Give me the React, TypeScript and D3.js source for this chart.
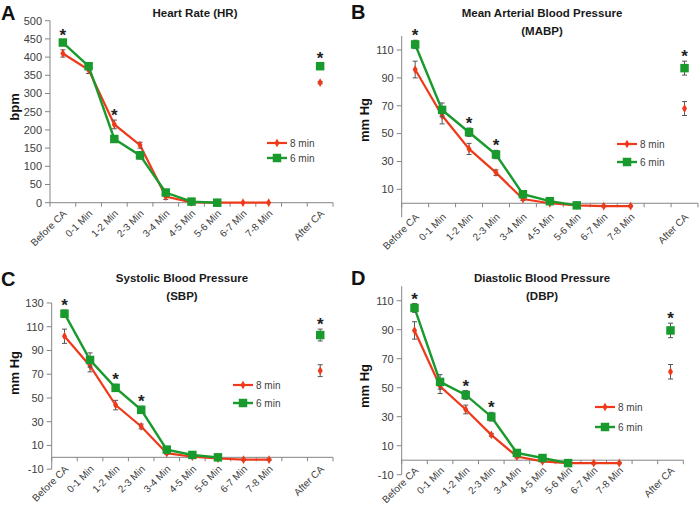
import * as d3 from "d3";

// x categories (empty slot before "After CA" as in the original axis)
const categories = ["Before CA", "0-1 Min", "1-2 Min", "2-3 Min", "3-4 Min", "4-5 Min", "5-6 Min", "6-7 Min", "7-8 Min", "", "After CA"];

// Heart rate (bpm)
const hr8 = [410, 365, 215, 158, 17, 1, 0, 0, 0, null, 330];
const hr8Err = [10, 10, 12, 8, 8, 2, 0, 0, 0, null, 3];
const hr6 = [440, 375, 175, 130, 28, 3, 0, null, null, null, 375];
const hr6Err = [8, 8, 8, 10, 8, 2, 0, null, null, null, 8];
const hrStars = [0, 2, 10];

// Mean arterial blood pressure (mm Hg)
const mabp8 = [96, 63, 39, 22, 3, 0, -1.5, -2, -2, null, 68];
const mabp8Err = [6, 6, 4, 2, 1, 0.5, 0.5, 0.5, 0.5, null, 5];
const mabp6 = [114, 67, 51, 35, 6.5, 1.5, -1.5, null, null, null, 97];
const mabp6Err = [3, 5, 3, 3, 2, 1, 1, null, null, null, 5];
const mabpStars = [0, 2, 3, 10];

// Systolic blood pressure (mm Hg)
const sbp8 = [102, 77, 44, 26, 3.5, 0.5, -1, -2, -2, null, 73];
const sbp8Err = [6, 5, 4, 2, 1, 0.5, 0.5, 0.5, 0.5, null, 5];
const sbp6 = [121, 82, 58.5, 40, 6.5, 2, 0, null, null, null, 103];
const sbp6Err = [3, 6, 3, 3, 2, 1, 1, null, null, null, 5];
const sbpStars = [0, 2, 3, 10];

// Diastolic blood pressure (mm Hg)
const dbp8 = [89.5, 51, 35, 17.5, 2.5, -0.8, -2, -2, -2, null, 61];
const dbp8Err = [6, 5, 3, 1, 1, 0.5, 0.5, 0.5, 0.5, null, 5];
const dbp6 = [105, 54, 45, 30, 5, 1.5, -2, null, null, null, 89.5];
const dbp6Err = [3, 5, 3, 3, 2, 1, 1, null, null, null, 5];
const dbpStars = [0, 2, 3, 10];

const mmTicks = [10, 30, 50, 70, 90, 110];

const RED = "#ee3a1b";
const GREEN = "#189a2c";
const FONT = "'Liberation Sans', Arial, sans-serif";

const panels = [
  {
    letter: "A", title: ["Heart Rate (HR)"], yLabel: "bpm",
    s8: hr8, e8: hr8Err, s6: hr6, e6: hr6Err, stars: hrStars,
    yDomain: [0, 500], yTicks: d3.range(0, 501, 50),
    x0: 50, x1: 333, yBottom: 202.7, yTop: 20.7, labelOff: 9,
    letterPos: [1, 20], titleX: 195, titleY: 17, yLabelPos: [14, 107], legend: [267, 143], legendGap: 15,
  },
  {
    letter: "B", title: ["Mean Arterial Blood Pressure", "(MABP)"], yLabel: "mm Hg",
    s8: mabp8, e8: mabp8Err, s6: mabp6, e6: mabp6Err, stars: mabpStars,
    yDomain: [-10, 120], yTicks: mmTicks,
    x0: 401.7, x1: 698, yBottom: 217.2, yTop: 36.1, labelOff: -2,
    letterPos: [351, 19], titleX: 542, titleY: 17, yLabelPos: [364, 120], legend: [617, 144], legendGap: 18,
  },
  {
    letter: "C", title: ["Systolic Blood Pressure", "(SBP)"], yLabel: "mm Hg",
    s8: sbp8, e8: sbp8Err, s6: sbp6, e6: sbp6Err, stars: sbpStars,
    yDomain: [-10, 130], yTicks: d3.range(-10, 131, 20),
    x0: 51.7, x1: 333, yBottom: 469.2, yTop: 303, labelOff: -2,
    letterPos: [1, 286], titleX: 182, titleY: 282, yLabelPos: [14, 373], legend: [233, 385], legendGap: 18,
  },
  {
    letter: "D", title: ["Diastolic Blood Pressure", "(DBP)"], yLabel: "mm Hg",
    s8: dbp8, e8: dbp8Err, s6: dbp6, e6: dbp6Err, stars: dbpStars,
    yDomain: [-10, 120], yTicks: d3.range(-10, 111, 20),
    x0: 401.7, x1: 683.3, yBottom: 474.7, yTop: 286.2, labelOff: -6,
    letterPos: [351, 285], titleX: 542, titleY: 282, yLabelPos: [364, 386], legend: [595, 407], legendGap: 20,
  },
];

const diamond = d3.symbol(d3.symbolDiamond, 22)();
const square = d3.symbol(d3.symbolSquare, 72)();

function Panel({ p }: { p: any }) {
  const x = d3.scaleBand<number>().domain(d3.range(categories.length)).range([p.x0, p.x1]);
  const cx = (i: number) => (x(i) as number) + x.bandwidth() / 2;
  const y = d3.scaleLinear().domain(p.yDomain).range([p.yBottom, p.yTop]);
  const y0 = y(0);
  const line = d3
    .line<number | null>()
    .defined((d) => d != null)
    .x((_, i) => cx(i))
    .y((d) => y(d as number));

  const series = [
    { vals: p.s8, errs: p.e8, color: RED, mark: diamond, w: 2.2 },
    { vals: p.s6, errs: p.e6, color: GREEN, mark: square, w: 2.4 },
  ];
  const boundaries = d3.range(categories.length + 1).map((i) => p.x0 + i * x.bandwidth());

  return (
    <g>
      <text x={p.letterPos[0]} y={p.letterPos[1]} fontFamily={FONT} fontWeight="bold" fontSize={20} fill="#111">
        {p.letter}
      </text>
      {p.title.map((t: string, i: number) => (
        <text key={i} x={p.titleX} y={p.titleY + i * 18} textAnchor="middle" fontFamily={FONT} fontWeight="bold" fontSize={11.5} fill="#1a1a1a">
          {t}
        </text>
      ))}
      <text
        transform={`translate(${p.yLabelPos[0]},${p.yLabelPos[1]}) rotate(-90)`}
        textAnchor="middle"
        dy="0.35em"
        fontFamily={FONT}
        fontWeight="bold"
        fontSize={13}
        fill="#111"
      >
        {p.yLabel}
      </text>

      {/* y axis */}
      <line x1={p.x0} x2={p.x0} y1={p.yTop} y2={p.yBottom} stroke="#858585" />
      {p.yTicks.map((t: number) => (
        <g key={t}>
          <line x1={p.x0 - 5} x2={p.x0} y1={y(t)} y2={y(t)} stroke="#858585" />
          <text x={p.x0 - 8} y={y(t)} dy="0.35em" textAnchor="end" fontFamily={FONT} fontSize={11} fill="#404040">
            {t}
          </text>
        </g>
      ))}

      {/* x axis at 0 */}
      <line x1={p.x0} x2={p.x1} y1={y0} y2={y0} stroke="#858585" />
      {boundaries.map((b: number, i: number) => (
        <line key={i} x1={b} x2={b} y1={y0} y2={y0 + 4} stroke="#858585" />
      ))}
      {categories.map((c, i) => (
        <text
          key={i}
          transform={`translate(${cx(i) + 2},${p.yBottom + p.labelOff}) rotate(-45)`}
          textAnchor="end"
          dy="0.35em"
          fontFamily={FONT}
          fontSize={10}
          fill="#404040"
        >
          {c}
        </text>
      ))}

      {series.map((s, k) => (
        <g key={k}>
          <path d={line(s.vals) || ""} fill="none" stroke={s.color} strokeWidth={s.w} />
          {s.vals.map((v: number | null, i: number) =>
            v == null || !s.errs[i] ? null : (
              <g key={i} stroke="#555" strokeWidth={1}>
                <line x1={cx(i)} x2={cx(i)} y1={y(v - s.errs[i])} y2={y(v + s.errs[i])} />
                <line x1={cx(i) - 2.5} x2={cx(i) + 2.5} y1={y(v - s.errs[i])} y2={y(v - s.errs[i])} />
                <line x1={cx(i) - 2.5} x2={cx(i) + 2.5} y1={y(v + s.errs[i])} y2={y(v + s.errs[i])} />
              </g>
            )
          )}
          {s.vals.map((v: number | null, i: number) =>
            v == null ? null : <path key={i} d={s.mark || ""} transform={`translate(${cx(i)},${y(v)})`} fill={s.color} />
          )}
        </g>
      ))}

      {p.stars.map((i: number) => {
        const top = d3.max(series, (s) => (s.vals[i] == null ? -Infinity : s.vals[i] + (s.errs[i] || 0))) as number;
        return (
          <text key={i} x={cx(i)} y={y(top) + 1} textAnchor="middle" fontFamily={FONT} fontWeight="bold" fontSize={17} fill="#222">
            *
          </text>
        );
      })}

      {/* legend */}
      {series.map((s, k) => {
        const ly = p.legend[1] + k * p.legendGap;
        return (
          <g key={k}>
            <line x1={p.legend[0]} x2={p.legend[0] + 20} y1={ly} y2={ly} stroke={s.color} strokeWidth={s.w} />
            <path d={s.mark || ""} transform={`translate(${p.legend[0] + 10},${ly})`} fill={s.color} />
            <text x={p.legend[0] + 23} y={ly} dy="0.35em" fontFamily={FONT} fontSize={10} fill="#404040">
              {k === 0 ? "8 min" : "6 min"}
            </text>
          </g>
        );
      })}
    </g>
  );
}

export default function App() {
  return (
    <svg width={700} height={506} style={{ position: "absolute", left: 0, top: 0, background: "#fff" }}>
      {panels.map((p) => (
        <Panel key={p.letter} p={p} />
      ))}
    </svg>
  );
}
